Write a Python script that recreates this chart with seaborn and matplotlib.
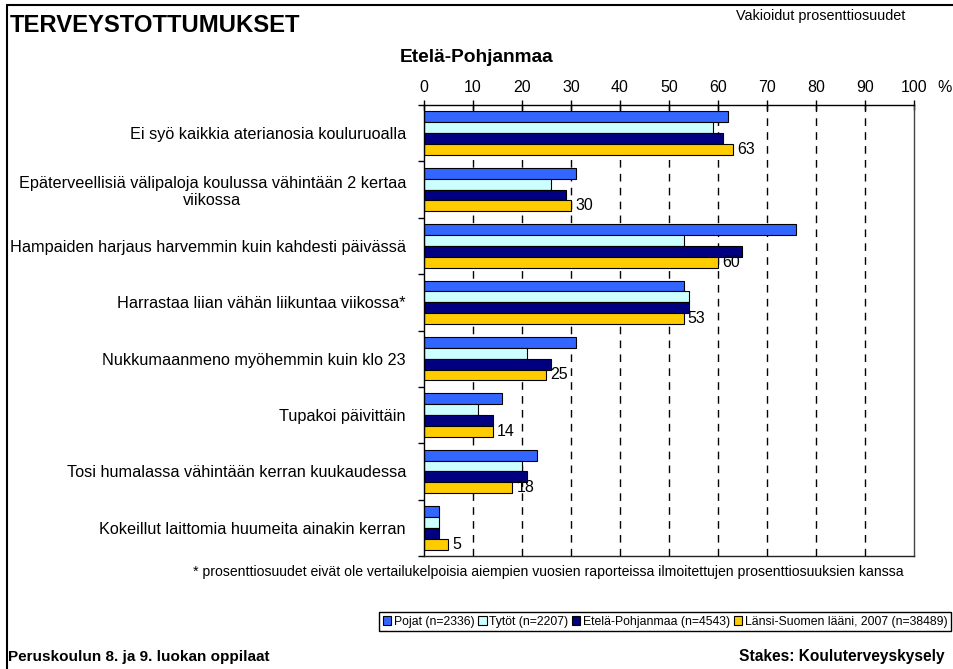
import matplotlib
matplotlib.use("Agg")
import matplotlib.pyplot as plt
from matplotlib.lines import Line2D
from matplotlib.patches import Patch
import seaborn as sns
import pandas as pd

categories = [
    "Ei syö kaikkia aterianosia kouluruoalla",
    "Epäterveellisiä välipaloja koulussa vähintään 2 kertaa\nviikossa",
    "Hampaiden harjaus harvemmin kuin kahdesti päivässä",
    "Harrastaa liian vähän liikuntaa viikossa*",
    "Nukkumaanmeno myöhemmin kuin klo 23",
    "Tupakoi päivittäin",
    "Tosi humalassa vähintään kerran kuukaudessa",
    "Kokeillut laittomia huumeita ainakin kerran",
]
series_names = [
    "Pojat (n=2336)",
    "Tytöt (n=2207)",
    "Etelä-Pohjanmaa (n=4543)",
    "Länsi-Suomen lääni, 2007 (n=38489)",
]
pojat = [62, 31, 76, 53, 31, 16, 23, 3]
tytot = [59, 26, 53, 54, 21, 11, 20, 3]
etela_pohjanmaa = [61, 29, 65, 54, 26, 14, 21, 3]
lansi_suomi = [63, 30, 60, 53, 25, 14, 18, 5]
x_ticks = [0, 10, 20, 30, 40, 50, 60, 70, 80, 90, 100]
colors = ["#3366FF", "#CCFFFF", "#000080", "#FFCC00"]

rows = []
for name, vals in zip(series_names, [pojat, tytot, etela_pohjanmaa, lansi_suomi]):
    for c, v in zip(categories, vals):
        rows.append({"category": c, "series": name, "value": v})
df = pd.DataFrame(rows)

sns.set_style("white")
plt.rcParams["font.family"] = ["Liberation Sans", "DejaVu Sans"]
plt.rcParams["text.color"] = "black"
plt.rcParams["xtick.color"] = "black"
plt.rcParams["ytick.color"] = "black"
plt.rcParams["axes.labelcolor"] = "black"

W, H = 954, 669
fig = plt.figure(figsize=(W / 100, H / 100), dpi=100)
fig.patch.set_facecolor("white")

def fx(px):
    return px / W

def fy(py):
    return 1 - py / H

ax = fig.add_axes([fx(424), fy(556), fx(914) - fx(424), fy(105) - fy(556)])

sns.barplot(
    data=df, y="category", x="value", hue="series",
    order=categories, hue_order=series_names,
    palette=colors, orient="h", width=0.77,
    edgecolor="black", linewidth=0.8, ax=ax, legend=False,
    saturation=1,
)

ax.set_xlim(0, 100)
ax.set_ylim(7.5, -0.5)
ax.set_xlabel("")
ax.set_ylabel("")

# vertical dashed gridlines
for xv in x_ticks[1:-1]:
    ax.axvline(xv, color="black", lw=1.0, linestyle=(0, (5.5, 4.5)), zorder=0)

for s in ax.spines.values():
    s.set_color("black")
    s.set_linewidth(1.0)
    s.set_visible(True)
ax.spines["bottom"].set_color("#222222")
ax.spines["right"].set_color("#444444")

ax.xaxis.tick_top()
ax.set_xticks(x_ticks)
ax.set_xticklabels([str(t) for t in x_ticks], fontsize=11.5, color="black")
ax.tick_params(axis="x", which="major", direction="inout", length=7, width=1,
               pad=4, top=True, bottom=False, colors="black")

ax.set_yticks(range(len(categories)))
ax.set_yticklabels(categories, fontsize=11.7, multialignment="center", color="black")
ax.tick_params(axis="y", which="major", length=0, pad=13, left=True)
ax.set_yticks([i - 0.5 for i in range(len(categories) + 1)], minor=True)
ax.tick_params(axis="y", which="minor", direction="out", length=4, width=1, left=True,
               colors="black")

# value labels for the last series
ax.bar_label(ax.containers[3], labels=[str(v) for v in lansi_suomi],
             padding=3, fontsize=11.5, color="black")

# texts
fig.text(fx(10), fy(25), "TERVEYSTOTTUMUKSET", fontsize=17.2, fontweight="bold",
         ha="left", va="center", color="black")
fig.text(fx(905), fy(16), "Vakioidut prosenttiosuudet", fontsize=10.4,
         ha="right", va="center", color="black")
fig.text(fx(477), fy(57), "Etelä-Pohjanmaa", fontsize=13.8, fontweight="bold",
         ha="center", va="center", color="black")
fig.text(fx(937), fy(88), "%", fontsize=11.5, ha="left", va="center", color="black")
fig.text(fx(548), fy(572),
         "* prosenttiosuudet eivät ole vertailukelpoisia aiempien vuosien raporteissa "
         "ilmoitettujen prosenttiosuuksien kanssa",
         fontsize=10.1, ha="center", va="center", color="black")
fig.text(fx(8), fy(657), "Peruskoulun 8. ja 9. luokan oppilaat", fontsize=11,
         fontweight="bold", ha="left", va="center", color="black")
fig.text(fx(945), fy(657), "Stakes: Kouluterveyskysely", fontsize=11.2,
         fontweight="bold", ha="right", va="center", color="black")

# legend
handles = [Patch(facecolor=c, edgecolor="black", linewidth=0.8) for c in colors]
leg = fig.legend(handles, series_names, loc="center",
                 bbox_to_anchor=(fx(665), fy(621.5)), ncol=4,
                 handlelength=0.7, handleheight=0.7, handletextpad=0.2,
                 columnspacing=0.3, borderpad=0.3, borderaxespad=0,
                 frameon=True, fancybox=False,
                 framealpha=1, edgecolor="black",
                 prop={"size": 8.8})
leg.get_frame().set_linewidth(1.0)
for t in leg.get_texts():
    t.set_color("black")

# outer border (left and top)
fig.add_artist(Line2D([fx(7), fx(7)], [fy(5), 0], color="black", lw=1.5,
                      transform=fig.transFigure))
fig.add_artist(Line2D([fx(7), 1], [fy(5), fy(5)], color="black", lw=1.5,
                      transform=fig.transFigure))

fig.savefig("out.png", dpi=100)
